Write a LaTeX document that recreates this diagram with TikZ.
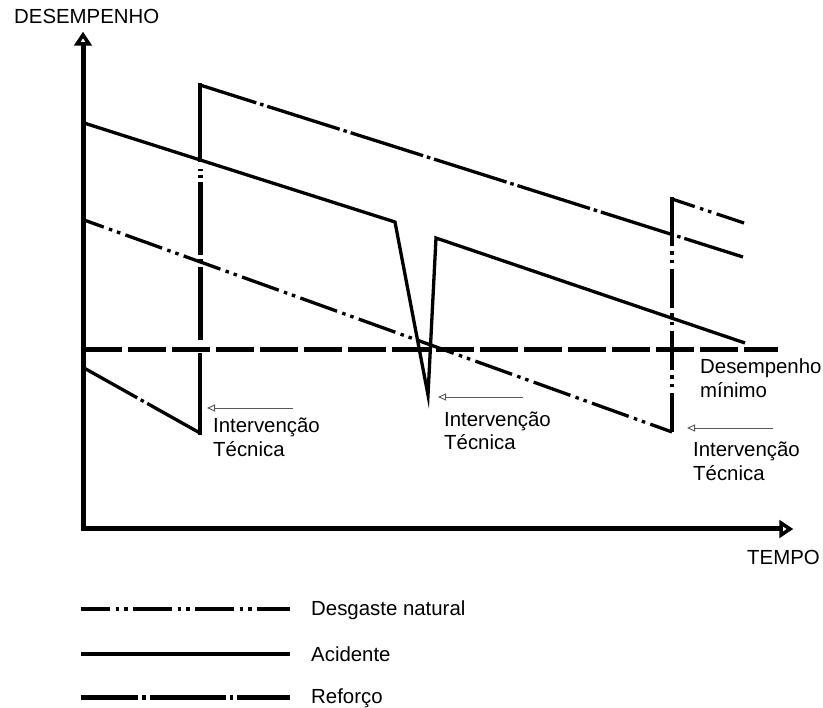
\documentclass[tikz,border=0pt]{standalone}
\usepackage{fontspec}
\setmainfont{Liberation Sans}
\usetikzlibrary{arrows.meta}
\begin{document}
\begin{tikzpicture}[x=1pt,y=-1pt,
  lbl/.style={anchor=base west, inner sep=0pt, font=\fontsize{20.4}{23}\selectfont},
  axisline/.style={line width=5pt, line join=miter},
  axhead/.style={line width=3.5pt, line join=miter, fill=white},
  acid/.style={line width=3.3pt, line join=miter},
  desg/.style={line width=3.3pt, dash pattern=on 39pt off 5.5pt on 3.5pt off 5pt on 3.5pt off 5.5pt},
  refo/.style={line width=3.3pt, dash pattern=on 76pt off 4pt on 3.5pt off 4pt},
  refothick/.style={line width=5pt, dash pattern=on 73pt off 4pt on 3.5pt off 4pt},
  solidseg/.style={line width=3.3pt, line cap=rect},
  minl/.style={line width=5pt, dash pattern=on 38pt off 6pt},
  interv/.style={draw=black!65, line width=0.9pt, -{Triangle[open,length=8pt,width=7pt]}},
]
\useasboundingbox (0,0) rectangle (823,708);

% axes
\coordinate (O) at (83,529);
\coordinate (Ybase) at (83,44);
\coordinate (Xbase) at (781,529);
\draw[axisline] (Ybase) -- (O) -- (Xbase);
\draw[axhead] (83,35) -- (77,44) -- (89,44) -- cycle;
\draw[axhead] (790,529) -- (781,523) -- (781,535) -- cycle;

% minimum performance
\coordinate (m1) at (84,350);
\coordinate (m2) at (778,350);
\draw[minl] (m1) -- (m2);

% Acidente
\coordinate (a1) at (84,123);
\coordinate (a2) at (395,222);
\coordinate (a3) at (428,395);
\coordinate (a4) at (436,238);
\coordinate (a5) at (745,343);
\draw[acid] (a1) -- (a2) -- (a3) -- (a4) -- (a5);

% Reforco
\coordinate (r1) at (84,368);
\coordinate (r2) at (200,433);
\coordinate (r3) at (200,355);
\coordinate (r4) at (200,340);
\coordinate (r5) at (200,169);
\coordinate (r6) at (200,160);
\coordinate (r7) at (200,85);
\coordinate (r8) at (743,257);
\draw[refo, dash phase=15pt] (r1) -- (r2);
\draw[solidseg] (r2) -- (r3);
\draw[refothick] (r4) -- (r5);
\draw[solidseg] (r6) -- (r7);
\draw[refo, dash phase=17pt] (r7) -- (r8);

% Desgaste natural
\coordinate (d1) at (84,220);
\coordinate (d2) at (672,432);
\coordinate (d3) at (672,233);
\coordinate (d4) at (672,199);
\coordinate (d5) at (744,223);
\draw[desg, dash phase=18pt] (d1) -- (d2);
\draw[desg] (d2) -- (d3);
\draw[solidseg] (d3) -- (d4);
\draw[desg, dash phase=15pt] (d4) -- (d5);

% labels
\node[lbl] (ylab) at (14,24) {DESEMPENHO};
\node[lbl] (xlab) at (747,565) {TEMPO};
\node[lbl] (min1) at (700,374) {Desempenho};
\node[lbl] (min2) at (700,398) {mínimo};
\node[lbl] (i1a) at (213,433) {Intervenção};
\node[lbl] (i1b) at (213,457) {Técnica};
\node[lbl] (i2a) at (444,427) {Intervenção};
\node[lbl] (i2b) at (444,450) {Técnica};
\node[lbl] (i3a) at (693,457) {Intervenção};
\node[lbl] (i3b) at (693,481) {Técnica};

% intervention arrows
\coordinate (t1s) at (293,408); \coordinate (t1e) at (207,408);
\coordinate (t2s) at (523,397); \coordinate (t2e) at (438,397);
\coordinate (t3s) at (773,428); \coordinate (t3e) at (687,428);
\draw[interv] (t1s) -- (t1e);
\draw[interv] (t2s) -- (t2e);
\draw[interv] (t3s) -- (t3e);

% legend
\coordinate (l1a) at (81,609); \coordinate (l1b) at (290,609);
\coordinate (l2a) at (81,654); \coordinate (l2b) at (290,654);
\coordinate (l3a) at (81,698); \coordinate (l3b) at (290,698);
\draw[desg, line width=4pt, dash phase=10pt] (l1a) -- (l1b);
\draw[acid, line width=4pt] (l2a) -- (l2b);
\draw[refo, line width=5pt, dash phase=19pt] (l3a) -- (l3b);
\node[lbl] (leg1) at (311,616) {Desgaste natural};
\node[lbl] (leg2) at (311,662) {Acidente};
\node[lbl] (leg3) at (311,703) {Reforço};
\end{tikzpicture}
\end{document}
